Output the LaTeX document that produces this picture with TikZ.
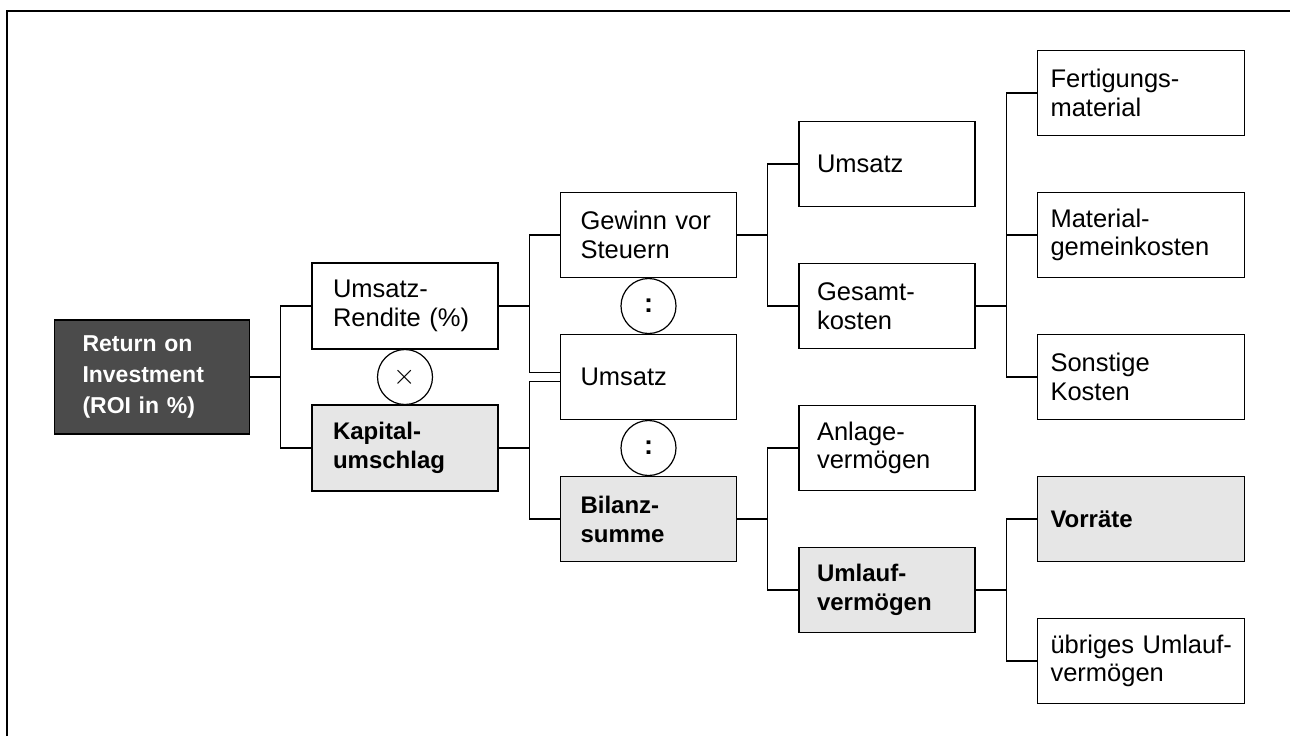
\documentclass[tikz,border=0pt]{standalone}
\usepackage{fontspec}
\setmainfont{Liberation Sans}
\usepackage{tikz}
\usetikzlibrary{positioning, calc}

\definecolor{roigrau}{HTML}{4B4B4B}
\definecolor{hellgrau}{HTML}{E6E6E6}

\tikzset{
	kasten/.style={draw, line width=0.9pt, outer sep=0pt, minimum height=42.5pt, align=left, inner ysep=0pt, font=\fontsize{12.75}{14.25}\selectfont},
	fett/.style={fill=hellgrau, font=\fontsize{12}{14.5}\selectfont\bfseries},
	roibox/.style={kasten, fill=roigrau, text=white, text width=69.5pt, inner xsep=14pt, minimum height=57pt, font=\fontsize{11.5}{15.5}\selectfont\bfseries},
	spalte1/.style={kasten, text width=72pt, inner xsep=10.5pt, minimum height=43pt},
	spalte2/.style={kasten, text width=68pt, inner xsep=10pt},
	spalte3/.style={kasten, text width=70pt, inner xsep=9pt},
	spalte4/.style={kasten, text width=90.5pt, inner xsep=6.5pt},
	linie/.style={line width=0.7pt},
	rechen/.style={draw, circle, minimum size=27.5pt, inner sep=0pt, line width=0.6pt, fill=white, font=\fontsize{13.5}{13.5}\selectfont},
	rahmen/.style={line width=1.2pt}
}

\begin{document}
\begin{tikzpicture}[node distance=28.5pt and 31.25pt]
		\useasboundingbox (0,0) rectangle (645pt,-368pt);
		\draw[rahmen] (3.5pt,-368pt) |- (645pt,-5.5pt);

		\node[roibox] (roi) at (76pt,-188.5pt) {Return on\\Investment\\(ROI in \%)};
		\node[spalte1, right=of roi, yshift=35.5pt] (rendite) {Umsatz-\\Rendite (\%)};
		\node[spalte1, fett, right=of roi, yshift=-35.5pt] (kapital) {Kapital-\\umschlag};
		\node[spalte2, right=of rendite, yshift=35.5pt] (gewinn) {Gewinn vor\\Steuern};
		\node[spalte2, below=of gewinn] (umsatz) {Umsatz};
		\node[spalte2, fett, below=of umsatz] (bilanz) {Bilanz-\\summe};
		\node[spalte3, right=of gewinn, yshift=35.5pt] (umsatzb) {Umsatz};
		\node[spalte3, right=of gewinn, yshift=-35.5pt] (gesamt) {Gesamt-\\kosten};
		\node[spalte3, right=of bilanz, yshift=35.5pt] (anlage) {Anlage-\\vermögen};
		\node[spalte3, fett, right=of bilanz, yshift=-35.5pt] (umlauf) {Umlauf-\\vermögen};
		\node[spalte4, right=of gesamt, yshift=35.5pt] (material) {Material-\\gemeinkosten};
		\node[spalte4, above=of material] (fertigung) {Fertigungs-\\material};
		\node[spalte4, below=of material] (sonstige) {Sonstige\\Kosten};
		\node[spalte4, fett, right=of umlauf, yshift=35.5pt] (vorraete) {Vorräte};
		\node[spalte4, right=of umlauf, yshift=-35.5pt] (uebrige) {\mbox{übriges Umlauf-}\\vermögen};

		\node[rechen] (mal) at ($(rendite.south)!0.5!(kapital.north)$) {$\times$};
		\node[rechen] (durch1) at ($(gewinn.south)!0.5!(umsatz.north)$) {\bfseries :};
		\node[rechen] (durch2) at ($(umsatz.south)!0.5!(bilanz.north)$) {\bfseries :};

		\draw[linie] (roi.east) -- ++(15.6pt,0) |- (rendite.west);
		\draw[linie] (roi.east) -- ++(15.6pt,0) |- (kapital.west);
		\draw[linie] (rendite.east) -- ++(15.6pt,0) |- (gewinn.west);
		\draw[linie] (rendite.east) -- ++(15.6pt,0) |- ([yshift=2.25pt]umsatz.west);
		\draw[linie] (kapital.east) -- ++(15.6pt,0) |- ([yshift=-2.25pt]umsatz.west);
		\draw[linie] (kapital.east) -- ++(15.6pt,0) |- (bilanz.west);
		\draw[linie] (gewinn.east) -- ++(15.6pt,0) |- (umsatzb.west);
		\draw[linie] (gewinn.east) -- ++(15.6pt,0) |- (gesamt.west);
		\draw[linie] (bilanz.east) -- ++(15.6pt,0) |- (anlage.west);
		\draw[linie] (bilanz.east) -- ++(15.6pt,0) |- (umlauf.west);
		\draw[linie] (gesamt.east) -- ++(15.6pt,0) |- (fertigung.west);
		\draw[linie] (gesamt.east) -- ++(15.6pt,0) |- (material.west);
		\draw[linie] (gesamt.east) -- ++(15.6pt,0) |- (sonstige.west);
		\draw[linie] (umlauf.east) -- ++(15.6pt,0) |- (vorraete.west);
		\draw[linie] (umlauf.east) -- ++(15.6pt,0) |- (uebrige.west);
	\end{tikzpicture}
\end{document}
